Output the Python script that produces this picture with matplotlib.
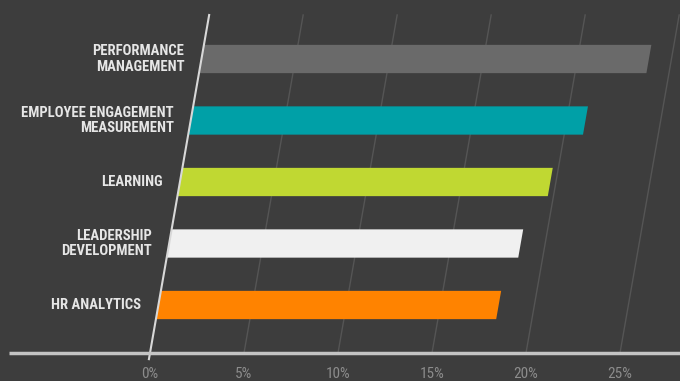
import numpy as np
import matplotlib
matplotlib.use("Agg")
import matplotlib.pyplot as plt
from matplotlib.transforms import Affine2D

categories = ["PERFORMANCE\nMANAGEMENT", "EMPLOYEE ENGAGEMENT\nMEASUREMENT", "LEARNING",
              "LEADERSHIP\nDEVELOPMENT", "HR ANALYTICS"]
values = [23.8, 21.0, 19.7, 18.7, 18.1]
colors = ["#6a6a6a", "#00a0a7", "#c0d832", "#f0f0f0", "#ff8300"]
ticks = [0, 5, 10, 15, 20, 25]
tick_labels = ["0%", "5%", "10%", "15%", "20%", "25%"]

bg = "#3d3d3d"
fig = plt.figure(figsize=(6.8, 3.81), dpi=100, facecolor=bg)
ax = fig.add_axes([0, 0, 1, 1])
ax.set_facecolor(bg)
ax.set_axis_off()

# 0% sits at x=150px, 18.8 px per percent; rows 61.5 px apart
ax.set_xlim(-150 / 18.8, 530 / 18.8)
ax.set_ylim(-76 / 61.5, 305 / 61.5)
base = -48 / 61.5
top = 290 / 61.5

# skew everything so that vertical lines lean right
y0 = ax.transData.transform((0, base))[1]
skew = ax.transData + Affine2D().translate(0, -y0).skew(np.arctan(0.175), 0).translate(0, y0)

rows = np.arange(len(categories))[::-1]

for t in ticks[1:]:
    ax.plot([t, t], [base, top], color="#555555", lw=1, transform=skew, zorder=1)
ax.plot([0, 0], [base - 0.1, top], color="#d8d8d8", lw=1.5, transform=skew, zorder=4)

ax.barh(rows, values, height=0.46, color=colors, transform=skew, zorder=3)

ax.plot([-7.5, 40], [base, base], color="#c4c4c4", lw=2.5, zorder=5, solid_capstyle="butt")

fam = ["Roboto Condensed", "Roboto", "DejaVu Sans"]
for r, lab in zip(rows, categories):
    x, y = skew.transform((0, r))
    ax.annotate(lab, xy=(x, y), xycoords="figure pixels", xytext=(-17, 0),
                textcoords="offset pixels", ha="right", va="center", color="#e6e6e6",
                fontsize=10.5, fontweight="bold", family=fam, linespacing=1.15)

for t, lab in zip(ticks, tick_labels):
    ax.text(t, -69 / 61.5, lab, ha="center", va="center", color="#8c8c8c",
            fontsize=11, family=fam)

fig.savefig("out.png", dpi=100, facecolor=bg)
